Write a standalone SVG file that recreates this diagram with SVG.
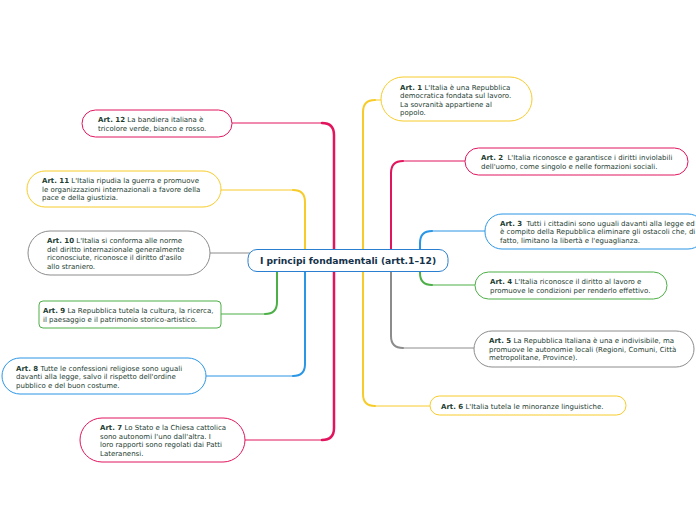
<svg xmlns="http://www.w3.org/2000/svg" width="696" height="520" viewBox="0 0 696 520">
<style>
.t{font-family:"DejaVu Sans","Verdana",sans-serif;font-size:7px;fill:#1d3d31}
.b{font-weight:bold}
.title{font-family:"DejaVu Sans","Verdana",sans-serif;font-size:9.2px;font-weight:bold;fill:#15324a}
.box{fill:#fff;stroke-width:1}
.c{fill:none;stroke-width:2;stroke-linecap:round}
.tl{fill:none;stroke-width:1}
.y{stroke:#f7cc2a}.p{stroke:#e2145e}.bl{stroke:#2a96e6}.g{stroke:#4daf47}.gr{stroke:#8c8c8c}
</style>
<rect width="696" height="520" fill="#fff"/>
<g id="connectors">
<path class="c y" d="M363,258 V112 Q363,100 375,100"/><path class="tl y" d="M375,100 H381"/>
<path class="c y" d="M363,266 V394 Q363,406 375,406"/><path class="tl y" d="M375,406 H430"/>
<path class="c p" d="M391,258 V173 Q391,161 403,161"/><path class="tl p" d="M403,161 H465"/>
<path class="c gr" d="M391,266 V336 Q391,348 403,348"/><path class="tl gr" d="M403,348 H474"/>
<path class="c bl" d="M420,258 V243 Q420,231 432,231"/><path class="tl bl" d="M432,231 H485"/>
<path class="c g" d="M420,266 V273 Q420,285 432,285"/><path class="tl g" d="M432,285 H475"/>
<path class="c p" style="stroke-width:2.5" d="M334,258 V135 Q334,123 322,123"/><path class="tl p" d="M322,123 H232"/>
<path class="c p" style="stroke-width:2.5" d="M334,266 V428 Q334,440 322,440"/><path class="tl p" d="M322,440 H245"/>
<path class="c y" d="M305,258 V202 Q305,190 293,190"/><path class="tl y" d="M293,190 H221"/>
<path class="tl gr" d="M250,253 H210"/>
<path class="c g" d="M277,266 V302 Q277,314 265,314"/><path class="tl g" d="M265,314 H221"/>
<path class="c bl" d="M305,266 V364 Q305,376 293,376"/><path class="tl bl" d="M293,376 H206"/>
</g>
<g id="center">
<rect class="box" x="248" y="249.5" width="200" height="22" rx="9" stroke="#2a7fd0"/>
<text class="title" x="348" y="264" text-anchor="middle">I principi fondamentali (artt.1–12)</text>
</g>
<g id="art1">
<rect class="box" x="381" y="77" width="151" height="44" rx="22" stroke="#f7cc2a"/>
<text class="t" x="400"><tspan x="400" y="89.5"><tspan class="b">Art. 1</tspan> L'Italia è una Repubblica</tspan><tspan x="400" y="98">democratica fondata sul lavoro.</tspan><tspan x="400" y="106.5">La sovranità appartiene al</tspan><tspan x="400" y="115">popolo.</tspan></text>
</g>
<g id="art2">
<rect class="box" x="465" y="148" width="223" height="27" rx="13.5" stroke="#e2145e"/>
<text class="t"><tspan x="481" y="160"><tspan class="b">Art. 2</tspan><tspan dx="2"> L'Italia riconosce e garantisce i diritti inviolabili</tspan></tspan><tspan x="481" y="168.5">dell'uomo, come singolo e nelle formazioni sociali.</tspan></text>
</g>
<g id="art3">
<rect class="box" x="485" y="214" width="220" height="35" rx="17" stroke="#2a96e6"/>
<text class="t"><tspan x="500" y="225.5"><tspan class="b">Art. 3</tspan><tspan dx="2"> Tutti i cittadini sono uguali davanti alla legge ed</tspan></tspan><tspan x="500" y="234">è compito della Repubblica eliminare gli ostacoli che, di</tspan><tspan x="500" y="242.5">fatto, limitano la libertà e l'eguaglianza.</tspan></text>
</g>
<g id="art4">
<rect class="box" x="475" y="272" width="192" height="27" rx="13.5" stroke="#4daf47"/>
<text class="t"><tspan x="490" y="284"><tspan class="b">Art. 4</tspan> L'Italia riconosce il diritto al lavoro e</tspan><tspan x="490" y="292.5">promuove le condizioni per renderlo effettivo.</tspan></text>
</g>
<g id="art5">
<rect class="box" x="474" y="331" width="220" height="36" rx="18" stroke="#8c8c8c"/>
<text class="t"><tspan x="489" y="343"><tspan class="b">Art. 5</tspan> La Repubblica Italiana è una e indivisibile, ma</tspan><tspan x="489" y="351.5">promuove le autonomie locali (Regioni, Comuni, Città</tspan><tspan x="489" y="360">metropolitane, Province).</tspan></text>
</g>
<g id="art6">
<rect class="box" x="430" y="396" width="196" height="19" rx="9.5" stroke="#f7cc2a"/>
<text class="t"><tspan x="441" y="408.5"><tspan class="b">Art. 6</tspan> L'Italia tutela le minoranze linguistiche.</tspan></text>
</g>
<g id="art12">
<rect class="box" x="82" y="110" width="150" height="27" rx="13.5" stroke="#e2145e"/>
<text class="t"><tspan x="98" y="122"><tspan class="b">Art. 12</tspan> La bandiera italiana è</tspan><tspan x="98" y="130.5">tricolore verde, bianco e rosso.</tspan></text>
</g>
<g id="art11">
<rect class="box" x="27" y="171" width="194" height="36" rx="18" stroke="#f7cc2a"/>
<text class="t"><tspan x="42" y="183"><tspan class="b">Art. 11</tspan> L'Italia ripudia la guerra e promuove</tspan><tspan x="42" y="191.5">le organizzazioni internazionali a favore della</tspan><tspan x="42" y="200">pace e della giustizia.</tspan></text>
</g>
<g id="art10">
<rect class="box" x="28" y="231" width="182" height="44" rx="22" stroke="#8c8c8c"/>
<text class="t"><tspan x="47" y="243"><tspan class="b">Art. 10</tspan> L'Italia si conforma alle norme</tspan><tspan x="47" y="251.5">del diritto internazionale generalmente</tspan><tspan x="47" y="260">riconosciute, riconosce il diritto d'asilo</tspan><tspan x="47" y="268.5">allo straniero.</tspan></text>
</g>
<g id="art9">
<rect class="box" x="39" y="301" width="182" height="27" rx="4" stroke="#4daf47"/>
<text class="t"><tspan x="43" y="313"><tspan class="b">Art. 9</tspan> La Repubblica tutela la cultura, la ricerca,</tspan><tspan x="43" y="321.5">il paesaggio e il patrimonio storico-artistico.</tspan></text>
</g>
<g id="art8">
<rect class="box" x="2" y="358" width="204" height="36" rx="18" stroke="#2a96e6"/>
<text class="t"><tspan x="16" y="370.5"><tspan class="b">Art. 8</tspan> Tutte le confessioni religiose sono uguali</tspan><tspan x="16" y="379">davanti alla legge, salvo il rispetto dell'ordine</tspan><tspan x="16" y="387.5">pubblico e del buon costume.</tspan></text>
</g>
<g id="art7">
<rect class="box" x="80" y="418" width="165" height="44" rx="22" stroke="#e2145e"/>
<text class="t"><tspan x="100" y="430"><tspan class="b">Art. 7</tspan> Lo Stato e la Chiesa cattolica</tspan><tspan x="100" y="438.5">sono autonomi l'uno dall'altra. I</tspan><tspan x="100" y="447">loro rapporti sono regolati dai Patti</tspan><tspan x="100" y="455.5">Lateranensi.</tspan></text>
</g>
</svg>
